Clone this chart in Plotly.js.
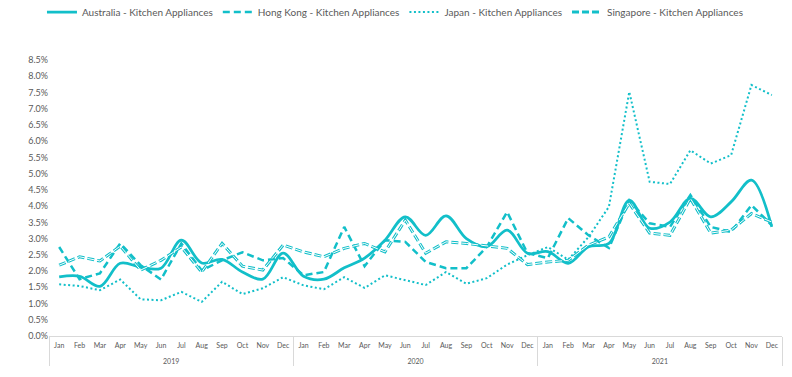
<!DOCTYPE html>
<html>
<head>
<meta charset="utf-8">
<script src="https://cdn.plot.ly/plotly-3.0.1.min.js"></script>
<style>html,body{margin:0;padding:0;background:#fff;}#chart{width:792px;height:377px;}</style>
</head>
<body>
<div id="chart"></div>
<script>
const years = ['2019','2020','2021'];
const months = ['Jan','Feb','Mar','Apr','May','Jun','Jul','Aug','Sep','Oct','Nov','Dec'];

const australia = [1.82,1.84,1.53,2.24,2.12,2.09,2.95,2.25,2.36,1.97,1.75,2.55,
                   1.84,1.75,2.1,2.4,2.95,3.67,3.1,3.7,3.0,2.75,3.26,2.55,
                   2.6,2.24,2.75,2.85,4.18,3.32,3.51,4.24,3.67,4.13,4.8,3.36];
const hongKong = [2.74,1.75,1.93,2.85,2.18,1.74,2.85,2.02,2.33,2.58,2.33,2.4,
                  1.87,1.97,3.36,2.15,2.95,2.9,2.28,2.09,2.09,2.74,3.82,2.55,
                  2.4,3.63,3.1,2.71,4.18,3.47,3.36,4.34,3.36,3.2,4.03,3.41];
const japan = [1.59,1.54,1.41,1.74,1.13,1.1,1.36,1.05,1.67,1.29,1.47,1.81,
               1.56,1.44,1.81,1.48,1.87,1.72,1.57,1.97,1.61,1.78,2.2,2.49,
               2.74,2.35,3.05,3.98,7.52,4.75,4.68,5.72,5.31,5.57,7.73,7.42];
const singapore = [2.18,2.44,2.31,2.77,2.03,2.33,2.74,1.97,2.85,2.15,2.03,2.8,
                   2.59,2.44,2.7,2.85,2.59,3.57,2.55,2.9,2.85,2.77,2.7,2.2,
                   2.28,2.33,2.8,3.05,4.09,3.17,3.1,4.24,3.17,3.26,3.77,3.51];

const seriesNames = ['Australia - Kitchen Appliances','Hong Kong - Kitchen Appliances',
                     'Japan - Kitchen Appliances','Singapore - Kitchen Appliances'];

const xYears = [], xMonths = [];
years.forEach(y => months.forEach(m => { xYears.push(y); xMonths.push(m + '<br> '); }));
const x = [xYears, xMonths];

const teal = '#12BFC9';

const traces = [
  {x: x, y: australia, name: seriesNames[0], type: 'scatter', mode: 'lines',
   line: {color: teal, width: 2.75, shape: 'spline', smoothing: 1}},
  {x: x, y: hongKong, name: seriesNames[1], type: 'scatter', mode: 'lines',
   line: {color: teal, width: 2.5, dash: '7px,4px'}},
  {x: x, y: japan, name: seriesNames[2], type: 'scatter', mode: 'lines',
   line: {color: teal, width: 2, dash: '2px,2.5px'}},
  {x: x, y: singapore, name: seriesNames[3], type: 'scatter', mode: 'lines',
   line: {color: teal, width: 3, dash: '7px,3px'}},
  {x: x, y: singapore, name: seriesNames[3], type: 'scatter', mode: 'lines', showlegend: false,
   line: {color: '#ffffff', width: 1, dash: '7px,3px'}}
];

const layout = {
  width: 792, height: 377,
  margin: {l: 49, r: 10, t: 60, b: 41},
  paper_bgcolor: '#fff', plot_bgcolor: '#fff',
  font: {family: 'Lato, "Open Sans", sans-serif', color: '#595959'},
  showlegend: true,
  hovermode: false,
  legend: {orientation: 'h', x: 0.472, xanchor: 'center', yref: 'container', y: 0.968, yanchor: 'middle',
           font: {size: 10, color: '#595959'}, itemwidth: 30, traceorder: 'normal'},
  xaxis: {type: 'multicategory', range: [-0.5, 35.5], showgrid: false, zeroline: false,
          showline: true, linecolor: '#d9d9d9', linewidth: 1,
          showdividers: true, dividercolor: '#d9d9d9', dividerwidth: 1,
          tickangle: 0, ticklabelstandoff: 3, tickfont: {size: 7, color: '#595959'}, ticks: '', automargin: false},
  yaxis: {range: [0, 8.5], dtick: 0.5, tick0: 0, tickformat: '.1f', ticksuffix: '%',
          showgrid: false, zeroline: false, showline: false, ticks: '',
          tickfont: {size: 9, color: '#595959'}, automargin: false}
};

Plotly.newPlot('chart', traces, layout, {displayModeBar: false, staticPlot: true});
</script>
</body>
</html>
